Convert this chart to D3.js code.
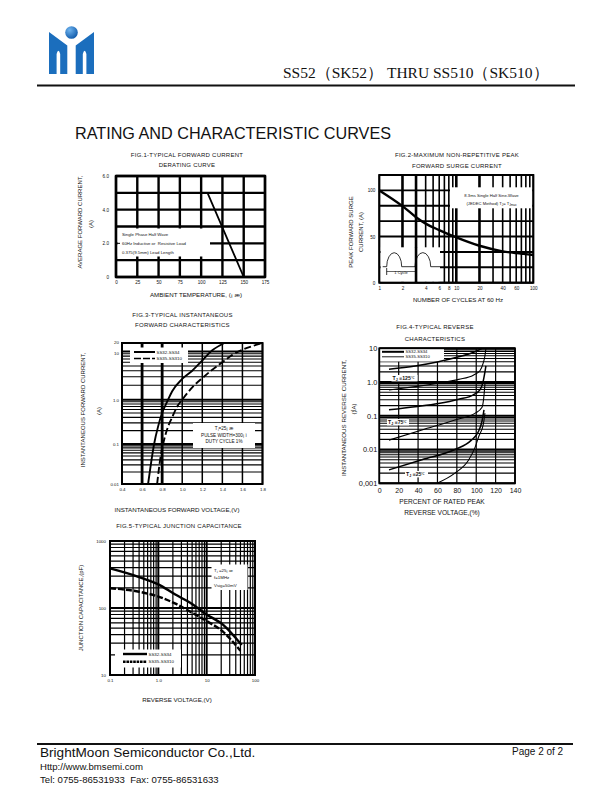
<!DOCTYPE html>
<html><head><meta charset="utf-8">
<script src="https://cdn.jsdelivr.net/npm/d3@7"></script>
<style>
body{margin:0;background:#fff}
svg{display:block}
text{font-family:"Liberation Sans",Arial,sans-serif;fill:#111;white-space:pre}
</style>
</head><body>
<svg id="c" width="612" height="792"></svg>
<script>
// ---------------- DATA ----------------
// Fig.1 derating curve
const fig1Temp    = [0, 107.5, 150];
const fig1Current = [5, 5, 0];
const fig1XTicks  = [0, 25, 50, 75, 100, 125, 150, 175];
const fig1YTicks  = [0, 2, 4, 6];
const fig1YLabels = ["0", "2.0", "4.0", "6.0"];

// Fig.2 surge current
const fig2Cycles  = [1, 2, 3, 4, 6, 10, 20, 40, 60, 100];
const fig2Current = [100, 83, 71, 64, 57, 49, 40, 34, 32, 30];
const fig2XTicks  = [1, 2, 4, 6, 8, 10, 20, 40, 60, 100];
const fig2YTicks  = [0, 50, 100];

// Fig.3 forward characteristics
const fig3VoltA = [0.66, 0.70, 0.72, 0.76, 0.80, 0.85, 0.90, 1.00, 1.10, 1.20, 1.30, 1.42];
const fig3CurrA = [0.01, 0.05, 0.10, 0.25, 0.50, 0.90, 1.5, 2.7, 4.0, 6.5, 11, 20];
const fig3VoltB = [0.75, 0.78, 0.81, 0.86, 0.90, 0.95, 1.00, 1.10, 1.20, 1.30, 1.40, 1.50, 1.60, 1.70, 1.80];
const fig3CurrB = [0.01, 0.04, 0.10, 0.25, 0.40, 0.70, 1.0, 1.8, 2.8, 4.2, 6.0, 8.5, 11.5, 15.5, 20];
const fig3XTicks = [0.4, 0.6, 0.8, 1.0, 1.2, 1.4, 1.6, 1.8];
const fig3YTicks = [0.01, 0.1, 1, 10, 20];
const fig3YLabels = ["0.01", "0.1", "1.0", "10", "20"];

// Fig.4 reverse characteristics (percent of rated voltage, uA)
const fig4Pct125a = [10, 37, 61, 82, 96, 106];
const fig4Cur125a = [2.4, 3.0, 4.0, 5.6, 7.4, 10];
const fig4Pct125b = [10, 37, 61, 82, 97, 104, 107, 109, 110];
const fig4Cur125b = [0.58, 0.73, 0.92, 1.2, 1.6, 2.2, 3.5, 6, 10];
const fig4Pct75a  = [10, 37, 61, 82, 97, 104, 107, 109, 110];
const fig4Cur75a  = [0.15, 0.185, 0.23, 0.31, 0.42, 0.6, 1.0, 2.0, 3.0];
const fig4Pct75b  = [10, 44, 78, 99, 106, 108, 109];
const fig4Cur75b  = [0.019, 0.038, 0.075, 0.12, 0.18, 0.4, 0.9];
const fig4Pct25a  = [10, 44, 78, 95, 102, 106, 108];
const fig4Cur25a  = [0.0025, 0.005, 0.01, 0.019, 0.033, 0.07, 0.15];
const fig4Pct25b  = [59.5, 78, 92, 99, 102.5, 107.5, 109];
const fig4Cur25b  = [0.001, 0.002, 0.0048, 0.012, 0.024, 0.06, 0.12];
const fig4XTicks  = [0, 20, 40, 60, 80, 100, 120, 140];
const fig4YTicks  = [0.001, 0.01, 0.1, 1, 10];
const fig4YLabels = ["0,001", "0.01", "0.1", "1.0", "10"];

// Fig.5 junction capacitance
const fig5VoltA = [0.1, 0.4, 1, 2.2, 5, 9.2, 22, 53];
const fig5CapA  = [390, 290, 225, 160, 115, 83, 56, 28];
const fig5VoltB = [0.1, 0.4, 1, 2.2, 5, 9.2, 22, 50];
const fig5CapB  = [197, 175, 148, 117, 85, 66, 44, 23];
const fig5XTicks  = [0.1, 1, 10, 100];
const fig5XLabels = ["0.1", "1.0", "10", "100"];
const fig5YTicks  = [10, 100, 1000];

// ---------------- HELPERS ----------------
const svg = d3.select("#c");
const zip = (a, b) => a.map((v, i) => [v, b[i]]);

function logMinor(lo, hi) {
  const out = [];
  for (let d = lo; d < hi * 0.999; d *= 10) {
    for (let k = 1; k <= 9; k++) out.push(+(k * d).toPrecision(6));
  }
  out.push(hi);
  return out;
}
function txt(g, x, y, s, size, anchor, extra) {
  const t = g.append("text").attr("x", x).attr("y", y).attr("font-size", size)
    .attr("text-anchor", anchor || "start").text(s);
  if (extra) extra(t);
  return t;
}
function vgrid(g, x, y, vals, wfn, y0, y1) {
  g.selectAll(null).data(vals).join("line")
    .attr("x1", d => x(d)).attr("x2", d => x(d))
    .attr("y1", y0 !== undefined ? y0 : y.range()[0]).attr("y2", y1 !== undefined ? y1 : y.range()[y.range().length-1])
    .attr("stroke", "#000").attr("stroke-width", wfn);
}
function hgrid(g, x, y, vals, wfn) {
  g.selectAll(null).data(vals).join("line")
    .attr("y1", d => y(d)).attr("y2", d => y(d))
    .attr("x1", x.range()[0]).attr("x2", x.range()[x.range().length-1])
    .attr("stroke", "#000").attr("stroke-width", wfn);
}
function frame(g, x, y, w) {
  const r = x.range(), q = y.range();
  g.append("rect").attr("x", r[0]).attr("y", q[q.length-1])
    .attr("width", r[r.length-1] - r[0]).attr("height", q[0] - q[q.length-1])
    .attr("fill", "none").attr("stroke", "#000").attr("stroke-width", w);
}
function whiteBox(g, x0, y0, x1, y1) {
  g.append("rect").attr("x", x0).attr("y", y0).attr("width", x1 - x0).attr("height", y1 - y0).attr("fill", "#fff");
}
function yTitle(g, cx, cy, s, size) {
  g.append("text").attr("transform", `translate(${cx},${cy}) rotate(-90)`)
    .attr("font-size", size).attr("text-anchor", "middle").attr("dy", "0.35em").text(s);
}

// ---------------- HEADER ----------------
const blue = "#1b6ebd";
const logo = svg.append("g");
const defs = svg.append("defs");
const rg = defs.append("radialGradient").attr("id", "ball").attr("cx", "35%").attr("cy", "30%").attr("r", "70%");
rg.append("stop").attr("offset", "0%").attr("stop-color", "#6fb4ef");
rg.append("stop").attr("offset", "100%").attr("stop-color", "#155fae");
logo.append("circle").attr("cx", 71.5).attr("cy", 32.5).attr("r", 6.3).attr("fill", "url(#ball)");
const leftHalf = "M49,32 L67.3,45.5 L67.3,74 L60.2,74 L60.2,54 Q58.4,47.5 56.6,54 L56.6,74 L49,74 Z";
const rightHalf = "M94,32 L75.7,45.5 L75.7,74 L82.8,74 L82.8,54 Q84.6,47.5 86.4,54 L86.4,74 L94,74 Z";
logo.append("path").attr("d", leftHalf).attr("fill", blue);
logo.append("path").attr("d", rightHalf).attr("fill", blue);

svg.append("text").attr("x", 283).attr("y", 77.5).attr("font-size", 15.5)
  .style("font-family", '"Liberation Serif","Times New Roman",serif')
  .text("SS52（SK52） THRU SS510（SK510）");
svg.append("line").attr("x1", 37).attr("x2", 575).attr("y1", 85.5).attr("y2", 85.5)
  .attr("stroke", "#111").attr("stroke-width", 2);

svg.append("text").attr("x", 75).attr("y", 138.5).attr("font-size", 16.2).text("RATING AND CHARACTERISTIC CURVES");

// ---------------- FIG 1 ----------------
{
  const g = svg.append("g");
  const x = d3.scaleLinear().domain([0, 175]).range([116, 265]);
  const y = d3.scaleLinear().domain([0, 6]).range([277, 176]);
  vgrid(g, x, y, fig1XTicks, 2.4);
  hgrid(g, x, y, d3.range(0, 7), 2.4);
  whiteBox(g, 117.5, 228.5, 210, 256.5);
  g.append("line").attr("x1", x(0)).attr("x2", x(0)+4).attr("y1", y(2)).attr("y2", y(2)).attr("stroke", "#000").attr("stroke-width", 1);
  frame(g, x, y, 2.4);
  g.append("path").datum(zip(fig1Temp, fig1Current))
    .attr("d", d3.line().x(d => x(d[0])).y(d => y(d[1])))
    .attr("fill", "none").attr("stroke", "#000").attr("stroke-width", 1.8);
  const ax = d3.axisBottom(x).tickValues(fig1XTicks).tickSize(0).tickPadding(4);
  const axg = g.append("g").attr("transform", `translate(0,${y(0)})`).call(ax);
  axg.select(".domain").remove();
  axg.selectAll("text").attr("font-size", 4.6).style("font-family", "Liberation Sans");
  const ay = d3.axisLeft(y).tickValues(fig1YTicks).tickFormat((d, i) => fig1YLabels[i]).tickSize(0).tickPadding(7);
  const ayg = g.append("g").attr("transform", `translate(${x(0)},0)`).call(ay);
  ayg.select(".domain").remove();
  ayg.selectAll("text").attr("font-size", 4.6).style("font-family", "Liberation Sans");
  txt(g, 122, 235.5, "Single Phase Half Wave", 4.3);
  txt(g, 122, 244.5, "60Hz Inductive or  Resistive Load", 4.3);
  txt(g, 122, 254, "0.375(9.5mm) Lead Length", 4.3);
  txt(g, 187, 156.5, "FIG.1-TYPICAL FORWARD CURRENT", 6, "middle", t => t.attr("letter-spacing", 0.25));
  txt(g, 187, 166.5, "DERATING CURVE", 6, "middle", t => t.attr("letter-spacing", 0.25));
  txt(g, 196, 297, "AMBIENT TEMPERATURE, (¡ æ)", 6.2, "middle");
  yTitle(g, 80, 222, "AVERAGE FORWARD CURRENT,", 6);
  yTitle(g, 90.5, 224, "(A)", 6);
}

// ---------------- FIG 2 ----------------
{
  const g = svg.append("g");
  const x = d3.scaleLog().domain([1, 100]).range([379.3, 533.3]);
  const y = d3.scaleLinear().domain([0, 700 / 6]).range([282.7, 175]);
  const vx = logMinor(1, 100);
  vgrid(g, x, y, vx, d => ([2, 3, 10, 20].includes(d) ? 2.6 : 1.6));
  hgrid(g, x, y, d3.range(0, 7).map(i => i * 100 / 6), 1.9);
  whiteBox(g, 380.5, 247.3, 440, 281.8);
  whiteBox(g, 450, 187.3, 532.2, 208.3);
  g.append("line").attr("x1", x(3)).attr("x2", x(3)).attr("y1", 247).attr("y2", 282.7).attr("stroke", "#000").attr("stroke-width", 2.6);
  frame(g, x, y, 2);
  g.append("path").datum(zip(fig2Cycles, fig2Current))
    .attr("d", d3.line().curve(d3.curveMonotoneX).x(d => x(d[0])).y(d => y(d[1])))
    .attr("fill", "none").attr("stroke", "#000").attr("stroke-width", 2.4);
  const wf = "M382.7,266.7 L386.7,266.7 A7.5,14 0 0 1 401.7,266.7 L415,266.7 A7.8,14 0 0 1 430.7,266.7 L440,266.7";
  g.append("path").attr("d", wf).attr("fill", "none").attr("stroke", "#000").attr("stroke-width", 0.8);
  g.append("line").attr("x1", 386.7).attr("x2", 416).attr("y1", 271.5).attr("y2", 271.5).attr("stroke", "#000").attr("stroke-width", 0.6);
  g.append("line").attr("x1", 386.7).attr("x2", 386.7).attr("y1", 268).attr("y2", 275).attr("stroke", "#000").attr("stroke-width", 0.8);
  txt(g, 401, 273.6, "1 Cycle", 4, "middle", t => t.attr("fill", "#000"));
  txt(g, 491.5, 196.5, "8.3ms Single Half Sine-Wave", 4.2, "middle");
  const t2 = txt(g, 491.5, 204.5, "(JEDEC Method) T", 4.2, "middle");
  t2.append("tspan").attr("font-size", 3).attr("dy", 1).text("J");
  t2.append("tspan").attr("dy", -1).text("= T");
  t2.append("tspan").attr("font-size", 3).attr("dy", 1).text("Jmax");
  const ax = d3.axisBottom(x).tickValues(fig2XTicks).tickFormat(d3.format("d")).tickSize(0).tickPadding(4);
  const axg = g.append("g").attr("transform", `translate(0,${y(0)})`).call(ax);
  axg.select(".domain").remove();
  axg.selectAll("text").attr("font-size", 4.6).style("font-family", "Liberation Sans");
  const ay = d3.axisLeft(y).tickValues(fig2YTicks).tickFormat(d3.format("d")).tickSize(0).tickPadding(4);
  const ayg = g.append("g").attr("transform", `translate(${x(1)},0)`).call(ay);
  ayg.select(".domain").remove();
  ayg.selectAll("text").attr("font-size", 4.6).style("font-family", "Liberation Sans");
  txt(g, 457, 157, "FIG.2-MAXIMUM NON-REPETITIVE PEAK", 6, "middle", t => t.attr("letter-spacing", 0.25));
  txt(g, 457, 168, "FORWARD SURGE CURRENT", 6, "middle", t => t.attr("letter-spacing", 0.25));
  txt(g, 458, 302, "NUMBER OF CYCLES AT 60 Hz", 6.2, "middle");
  yTitle(g, 350.5, 232, "PEAK FORWARD SURGE", 6);
  yTitle(g, 361, 232, "CURRENT, (A)", 6);
}

// ---------------- FIG 3 ----------------
{
  const g = svg.append("g");
  const x = d3.scaleLinear().domain([0.4, 1.8]).range([122, 262.5]);
  const y = d3.scaleLog().domain([0.01, 0.1, 1, 10, 20]).range([484, 444, 399.7, 351.5, 343]);
  const hv = logMinor(0.01, 10).concat([20]);
  hgrid(g, x, y, hv, d => ([0.01, 0.1, 1, 10].includes(d) ? 2 : 1.1));
  vgrid(g, x, y, fig3XTicks, d => (Math.abs(d - 0.6) < 1e-6 || Math.abs(d - 0.8) < 1e-6 ? 2.8 : 1.5));
  whiteBox(g, 130, 347.5, 188, 363);
  whiteBox(g, 193, 423, 255, 448);
  frame(g, x, y, 2);
  const ln = d3.line().curve(d3.curveMonotoneX).x(d => x(d[0])).y(d => y(d[1]));
  g.append("path").datum(zip(fig3VoltA, fig3CurrA)).attr("d", ln)
    .attr("fill", "none").attr("stroke", "#000").attr("stroke-width", 1.9);
  g.append("path").datum(zip(fig3VoltB, fig3CurrB)).attr("d", ln)
    .attr("fill", "none").attr("stroke", "#000").attr("stroke-width", 1.9).attr("stroke-dasharray", "7,3");
  g.append("line").attr("x1", 134).attr("x2", 155).attr("y1", 352).attr("y2", 352).attr("stroke", "#000").attr("stroke-width", 2);
  g.append("line").attr("x1", 134).attr("x2", 155).attr("y1", 358.5).attr("y2", 358.5).attr("stroke", "#000").attr("stroke-width", 1.5).attr("stroke-dasharray", "7,2");
  txt(g, 156.5, 353.8, "SS32-SS34", 4.4);
  txt(g, 156.5, 360.3, "SS35-SS310", 4.4);
  txt(g, 224, 429.8, "T\u2C7C=25¡ æ", 4.6, "middle");
  txt(g, 224, 436.6, "PULSE WIDTH=300¡ ì", 4.6, "middle");
  txt(g, 224, 443.4, "DUTY CYCLE 1%", 4.6, "middle");
  const ax = d3.axisBottom(x).tickValues(fig3XTicks).tickFormat(d3.format(".1f")).tickSize(0).tickPadding(4);
  const axg = g.append("g").attr("transform", `translate(0,${484})`).call(ax);
  axg.select(".domain").remove();
  axg.selectAll("text").attr("font-size", 4.4).style("font-family", "Liberation Sans");
  const ay = d3.axisLeft(y).tickValues(fig3YTicks).tickFormat((d, i) => fig3YLabels[i]).tickSize(0).tickPadding(3);
  const ayg = g.append("g").attr("transform", `translate(${x(0.4)},0)`).call(ay);
  ayg.select(".domain").remove();
  ayg.selectAll("text").attr("font-size", 4.4).style("font-family", "Liberation Sans");
  ayg.selectAll(".tick").filter(d => d === 20).select("text").attr("dy", "0.1em");
  ayg.selectAll(".tick").filter(d => d === 10).select("text").attr("dy", "0.6em");
  txt(g, 182.5, 317, "FIG.3-TYPICAL INSTANTANEOUS", 6, "middle", t => t.attr("letter-spacing", 0.25));
  txt(g, 182.5, 327, "FORWARD CHARACTERISTICS", 6, "middle", t => t.attr("letter-spacing", 0.25));
  txt(g, 177, 512, "INSTANTANEOUS FORWARD VOLTAGE,(V)", 6.2, "middle");
  yTitle(g, 83, 410, "INSTANTANEOUS FORWARD CURRENT,", 6);
  yTitle(g, 99, 411, "(A)", 6);
}

// ---------------- FIG 4 ----------------
{
  const g = svg.append("g");
  const x = d3.scaleLinear().domain([0, 140]).range([379.3, 515]);
  const y = d3.scaleLog().domain([0.001, 10]).range([483.3, 348.3]);
  const hv = logMinor(0.001, 10);
  hgrid(g, x, y, hv, d => ([0.001, 0.01, 0.1, 1, 10].includes(d) ? 2 : 1.1));
  vgrid(g, x, y, fig4XTicks, 1.2);
  whiteBox(g, 380, 349, 444, 361.5);
  frame(g, x, y, 1.8);
  const ln = d3.line().curve(d3.curveMonotoneX).x(d => x(d[0])).y(d => y(d[1]));
  const series = [
    [fig4Pct125a, fig4Cur125a, 1.5], [fig4Pct125b, fig4Cur125b, 1.1],
    [fig4Pct75a, fig4Cur75a, 1.5], [fig4Pct75b, fig4Cur75b, 1.1],
    [fig4Pct25a, fig4Cur25a, 1.5], [fig4Pct25b, fig4Cur25b, 1.1]
  ];
  series.forEach(s => {
    g.append("path").datum(zip(s[0], s[1])).attr("d", ln)
      .attr("fill", "none").attr("stroke", "#000").attr("stroke-width", s[2]);
  });
  g.append("line").attr("x1", 382).attr("x2", 404).attr("y1", 351.8).attr("y2", 351.8).attr("stroke", "#000").attr("stroke-width", 2);
  g.append("line").attr("x1", 382).attr("x2", 404).attr("y1", 356.8).attr("y2", 356.8).attr("stroke", "#000").attr("stroke-width", 0.9);
  txt(g, 405.5, 353.4, "SS32-SS34", 4.2);
  txt(g, 405.5, 358.4, "SS35-SS310", 4.2);
  const lab = (x0, yb, w, s) => {
    whiteBox(g, x0 - 1, yb - 5.2, x0 + w, yb + 1.2);
    const t = txt(g, x0, yb, "T", 5.2, "start", t => t.attr("font-weight", "bold"));
    t.append("tspan").attr("font-size", 3.6).attr("dy", 1).text("J");
    t.append("tspan").attr("dy", -1).text(" \u2261" + s);
    t.append("tspan").attr("font-size", 3.8).attr("font-weight", "normal").attr("dy", -1.2).text("\u2103");
  };
  lab(392.5, 380.2, 25, "125");
  lab(388, 424.2, 21, "75");
  lab(406, 476.2, 22, "25");
  const ax = d3.axisBottom(x).tickValues(fig4XTicks).tickSize(0).tickPadding(5);
  const axg = g.append("g").attr("transform", `translate(0,${y(0.001)})`).call(ax);
  axg.select(".domain").remove();
  axg.selectAll("text").attr("font-size", 7).style("font-family", "Liberation Sans");
  const ay = d3.axisLeft(y).tickValues(fig4YTicks).tickFormat((d, i) => fig4YLabels[i]).tickSize(0).tickPadding(2);
  const ayg = g.append("g").attr("transform", `translate(${x(0)},0)`).call(ay);
  ayg.select(".domain").remove();
  ayg.selectAll("text").attr("font-size", 7.4).style("font-family", "Liberation Sans");
  txt(g, 435, 329, "FIG.4-TYPICAL REVERSE", 6, "middle", t => t.attr("letter-spacing", 0.25));
  txt(g, 435, 340.5, "CHARACTERISTICS", 6, "middle", t => t.attr("letter-spacing", 0.25));
  txt(g, 442, 504, "PERCENT OF RATED PEAK", 6.6, "middle");
  txt(g, 442, 515, "REVERSE VOLTAGE,(%)", 6.6, "middle");
  yTitle(g, 343.5, 418, "INSTANTANEOUS REVERSE CURRENT,", 6.2);
  yTitle(g, 354, 409, "(¦ÌA)", 6);
}

// ---------------- FIG 5 ----------------
{
  const g = svg.append("g");
  const x = d3.scaleLog().domain([0.1, 100]).range([110, 255]);
  const y = d3.scaleLog().domain([10, 1000]).range([675, 541]);
  const vv = logMinor(0.1, 100);
  const hv = logMinor(10, 1000);
  vgrid(g, x, y, vv, d => ([0.1, 1, 10, 100].includes(d) ? 2 : 1.2));
  hgrid(g, x, y, hv, d => ([10, 100, 1000].includes(d) ? 2 : 1.2));
  whiteBox(g, 115, 649.5, 181, 667.5);
  whiteBox(g, 211.5, 564.5, 247.5, 590);
  frame(g, x, y, 2);
  const ln = d3.line().curve(d3.curveMonotoneX).x(d => x(d[0])).y(d => y(d[1]));
  g.append("path").datum(zip(fig5VoltA, fig5CapA)).attr("d", ln)
    .attr("fill", "none").attr("stroke", "#000").attr("stroke-width", 2.4);
  g.append("path").datum(zip(fig5VoltB, fig5CapB)).attr("d", ln)
    .attr("fill", "none").attr("stroke", "#000").attr("stroke-width", 2.4).attr("stroke-dasharray", "6,2");
  g.append("line").attr("x1", 123).attr("x2", 147).attr("y1", 654).attr("y2", 654).attr("stroke", "#000").attr("stroke-width", 2.4);
  g.append("line").attr("x1", 123).attr("x2", 147).attr("y1", 661.7).attr("y2", 661.7).attr("stroke", "#000").attr("stroke-width", 2.4).attr("stroke-dasharray", "2.6,0.8");
  txt(g, 148.5, 655.6, "SS32-SS34", 4.4);
  txt(g, 148.5, 663.3, "SS35-SS310", 4.4);
  txt(g, 214, 571.5, "T\u2C7C =25¡ æ", 4.4);
  txt(g, 214, 579.3, "f=1MHz", 4.4);
  txt(g, 214, 586.5, "Vsig=50mV", 4.4);
  const ax = d3.axisBottom(x).tickValues(fig5XTicks).tickFormat((d, i) => fig5XLabels[i]).tickSize(0).tickPadding(4);
  const axg = g.append("g").attr("transform", `translate(0,${y(10)})`).call(ax);
  axg.select(".domain").remove();
  axg.selectAll("text").attr("font-size", 4.4).style("font-family", "Liberation Sans");
  const ay = d3.axisLeft(y).tickValues(fig5YTicks).tickFormat(d3.format("d")).tickSize(0).tickPadding(4);
  const ayg = g.append("g").attr("transform", `translate(${x(0.1)},0)`).call(ay);
  ayg.select(".domain").remove();
  ayg.selectAll("text").attr("font-size", 4.4).style("font-family", "Liberation Sans");
  txt(g, 179, 527.5, "FIG.5-TYPICAL JUNCTION CAPACITANCE", 6, "middle", t => t.attr("letter-spacing", 0.25));
  txt(g, 177, 701.5, "REVERSE VOLTAGE,(V)", 6.2, "middle");
  yTitle(g, 80.5, 608, "JUNCTION CAPACITANCE,(pF)", 6);
}

// ---------------- FOOTER ----------------
svg.append("line").attr("x1", 37).attr("x2", 573).attr("y1", 744).attr("y2", 744).attr("stroke", "#111").attr("stroke-width", 2);
svg.append("text").attr("x", 40).attr("y", 757).attr("font-size", 13.6).text("BrightMoon Semiconductor Co.,Ltd.");
svg.append("text").attr("x", 512).attr("y", 754.5).attr("font-size", 10).text("Page 2 of 2");
svg.append("text").attr("x", 40).attr("y", 770).attr("font-size", 9.6).text("Http://www.bmsemi.com");
svg.append("text").attr("x", 40).attr("y", 783).attr("font-size", 9.6).text("Tel: 0755-86531933\u00a0\u00a0Fax: 0755-86531633");
</script>
</body></html>
